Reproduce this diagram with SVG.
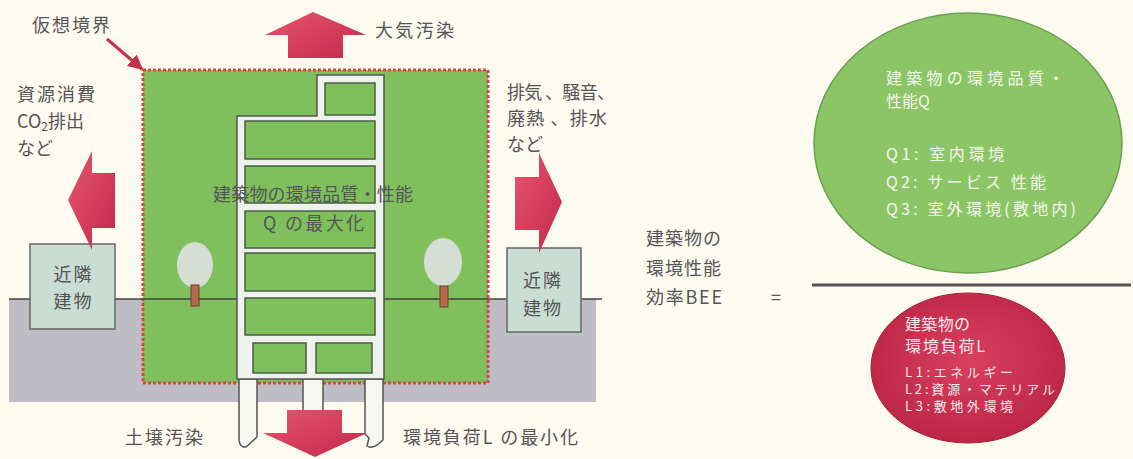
<svg xmlns="http://www.w3.org/2000/svg" width="1133" height="459" viewBox="0 0 1133 459">
  <defs>
    <style>
      text { font-family: "Noto Sans CJK JP", "Noto Sans", sans-serif; }
      .lbl { fill: #555; font-size: 18px; }
      .inner { fill: #555; font-size: 18px; }
      .wt { fill: #F3F7EC; font-size: 16px; }
      .wr { fill: #F8E8EC; }
      .win { fill: #7FBF5C; stroke: #4C5C45; stroke-width: 1.5; }
      .frame { fill: #EEF2EC; stroke: #555; stroke-width: 1.5; }
      .pile { fill: #F7F7F2; stroke: #555; stroke-width: 1.5; }
      .flow { fill: url(#redH); }
      .nb { fill: #C9DDD4; stroke: #666; stroke-width: 1.5; }
      .crown { fill: #D6DDD4; }
      .trunk { fill: #B8694C; stroke: #6B4030; stroke-width: 1; }
    </style>
    <linearGradient id="redH" x1="0" y1="0" x2="1" y2="1">
      <stop offset="0" stop-color="#E8546E"/>
      <stop offset="1" stop-color="#C12A4A"/>
    </linearGradient>
    <radialGradient id="redE" cx="0.5" cy="0.45" r="0.6">
      <stop offset="0" stop-color="#D8405E"/>
      <stop offset="1" stop-color="#BA2443"/>
    </radialGradient>
    <marker id="tip" viewBox="0 0 10 10" refX="9" refY="5" markerWidth="5" markerHeight="5" orient="auto">
      <path d="M0,0 L10,5 L0,10 Z" fill="#C8304E"/>
    </marker>
  </defs>

  <!-- paper -->
  <rect width="1133" height="459" fill="#FDFAF0"/>

  <!-- ground -->
  <g id="ground">
    <rect x="9" y="299" width="587" height="103" fill="#BEBDC5"/>
  </g>

  <!-- site boundary -->
  <g id="boundary">
    <rect x="143" y="70" width="345" height="313" fill="#7FBF5C" stroke="#D5474A" stroke-width="3" stroke-dasharray="3 2"/>
    <text class="lbl" x="32" y="32" textLength="78">仮想境界</text>
  </g>

  <!-- ground line -->
  <line x1="9" y1="299" x2="602" y2="299" stroke="#444" stroke-width="1.3"/>

  <!-- trees -->
  <g id="tree-left">
    <ellipse class="crown" cx="195" cy="265" rx="18" ry="23"/>
    <rect class="trunk" x="191" y="285" width="8" height="21"/>
  </g>
  <g id="tree-right">
    <ellipse class="crown" cx="443" cy="262" rx="19" ry="24"/>
    <rect class="trunk" x="440" y="286" width="8" height="21"/>
  </g>

  <!-- building -->
  <g id="building">
    <path class="pile" d="M239,379 V440 Q240,448 246,447 L257,437 V379 Z"/>
    <path class="pile" d="M303,379 V412 H323 V379 Z"/>
    <path class="pile" d="M365,379 V434 L369,438 L367,446 Q373,450 383,440 V379 Z"/>
    <path class="frame" d="M237,379 V116 H317 V75 H384 V379 Z"/>
    <rect class="win" x="325" y="83" width="50" height="32"/>
    <rect class="win" x="245" y="121" width="130" height="38"/>
    <rect class="win" x="245" y="166" width="130" height="37"/>
    <rect class="win" x="245" y="211" width="130" height="37"/>
    <rect class="win" x="245" y="253" width="130" height="38"/>
    <rect class="win" x="245" y="298" width="130" height="37"/>
    <rect class="win" x="253" y="343" width="53" height="30"/>
    <rect class="win" x="316" y="343" width="56" height="30"/>
    <text class="inner" x="213" y="201" textLength="200">建築物の環境品質・性能</text>
    <text class="inner" x="263" y="230" textLength="101">Q の最大化</text>
  </g>

  <!-- neighbouring buildings -->
  <g id="neighbor-left">
    <rect class="nb" x="30" y="244" width="85" height="85"/>
    <text class="lbl" x="72.5" y="281" text-anchor="middle" textLength="38">近隣</text>
    <text class="lbl" x="72.5" y="308" text-anchor="middle" textLength="38">建物</text>
  </g>
  <g id="neighbor-right">
    <rect class="nb" x="507" y="248" width="74" height="84"/>
    <text class="lbl" x="542" y="287" text-anchor="middle" textLength="38">近隣</text>
    <text class="lbl" x="542" y="315" text-anchor="middle" textLength="38">建物</text>
  </g>

  <!-- flows out of the boundary -->
  <g id="connectors">
    <polygon id="flow-up" class="flow" points="288,58 288,35 265,35 313,12 366,35 343,35 343,58"/>
    <polygon id="flow-left" class="flow" points="115,173 92,173 92,151 68,200 92,250 92,228 115,228"/>
    <polygon id="flow-right" class="flow" points="515,177 539,177 539,153 562,202 539,253 539,230 515,230"/>
    <polygon id="flow-down" class="flow" points="287,410 342,410 342,433 367,433 315,457 263,433 287,433"/>
    <line id="boundary-pointer" x1="107" y1="39" x2="142" y2="69" stroke="#C8304E" stroke-width="3" marker-end="url(#tip)"/>
  </g>

  <!-- flow labels -->
  <g id="labels">
    <text class="lbl" x="375" y="37" textLength="79">大気汚染</text>
    <text class="lbl" x="17" y="101" textLength="78">資源消費</text>
    <text class="lbl" x="17" y="128">CO<tspan font-size="12" dy="3">2</tspan><tspan dy="-3">排出</tspan></text>
    <text class="lbl" x="17" y="155">など</text>
    <text class="lbl" x="507" y="99" textLength="108">排気 、騒音、</text>
    <text class="lbl" x="507" y="125" textLength="100">廃熱 、排水</text>
    <text class="lbl" x="507" y="151">など</text>
    <text class="lbl" x="125" y="444" textLength="78">土壌汚染</text>
    <text class="lbl" x="403" y="444" textLength="175">環境負荷L の最小化</text>
  </g>

  <!-- BEE formula -->
  <g id="bee-label">
    <text class="lbl" x="646" y="245" textLength="75">建築物の</text>
    <text class="lbl" x="646" y="275" textLength="75">環境性能</text>
    <text class="lbl" x="646" y="304" textLength="76">効率BEE</text>
    <text class="lbl" x="776" y="304" text-anchor="middle" font-size="24">=</text>
  </g>

  <g id="quality-q">
    <ellipse cx="968" cy="143" rx="154" ry="130" fill="#8CC566" stroke="#6E9F52" stroke-width="1.5"/>
    <text class="wt" x="886" y="84" textLength="178">建築物の環境品質・</text>
    <text class="wt" x="886" y="107">性能Q</text>
    <text class="wt" x="886" y="160" textLength="118">Q1: 室内環境</text>
    <text class="wt" x="886" y="188" textLength="160">Q2: サービス 性能</text>
    <text class="wt" x="886" y="215" textLength="190">Q3: 室外環境(敷地内)</text>
  </g>

  <line id="fraction-bar" x1="812" y1="285" x2="1131" y2="285" stroke="#555" stroke-width="3"/>

  <g id="load-l">
    <ellipse cx="968" cy="368" rx="97" ry="75" fill="url(#redE)" stroke="#A61E3A" stroke-width="1"/>
    <text class="wr" x="905" y="330" font-size="16" textLength="65">建築物の</text>
    <text class="wr" x="905" y="352" font-size="16" textLength="80">環境負荷L</text>
    <text class="wr" x="905" y="377" font-size="13" textLength="108">L1:エネルギー</text>
    <text class="wr" x="905" y="394" font-size="13" textLength="150">L2:資源・マテリアル</text>
    <text class="wr" x="905" y="411" font-size="13" textLength="108">L3:敷地外環境</text>
  </g>
</svg>
